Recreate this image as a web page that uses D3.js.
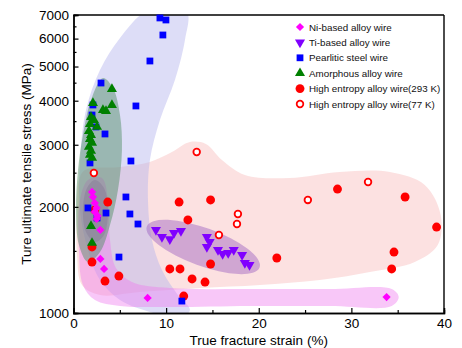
<!DOCTYPE html>
<html>
<head>
<meta charset="utf-8">
<script src="https://cdn.jsdelivr.net/npm/d3@7"></script>
<style>
  html, body { margin: 0; padding: 0; background: #fff; }
  svg { display: block; font-family: Arial, "Liberation Sans", sans-serif; }
</style>
</head>
<body>
<svg id="chart" width="462" height="348"></svg>
<script>
// ---- data: true fracture strain (%) vs. true ultimate tensile stress (MPa) ----
const niStrain = [2.0, 2.1, 2.3, 2.5, 2.3, 2.6, 2.5, 2.9, 2.9, 3.3, 8.0, 33.8];
const niStress = [2204, 2133, 2050, 1986, 1934, 1885, 1848, 1720, 1423, 1333, 1103, 1110];

const tiStrain = [8.9, 9.55, 10.4, 10.85, 11.6, 14.4, 14.7, 14.4, 15.6, 16.1, 16.7, 17.3, 18.2, 18.5, 19.0];
const tiStress = [1720, 1643, 1620, 1686, 1709, 1643, 1590, 1539, 1509, 1470, 1480, 1509, 1461, 1386, 1369];

const psStrain = [9.33, 9.98, 9.65, 8.25, 2.97, 2.10, 6.74, 2.0, 2.43, 3.40, 6.20, 1.78, 5.66, 1.56, 6.09, 3.51, 2.54, 6.96, 4.91, 11.70];
const psStress = [6866, 6776, 6143, 5184, 4490, 3890, 3865, 3643, 3370, 3219, 2698, 2664, 2133, 1986, 1909, 1921, 1860, 1788, 1441, 1081];

const amStrain = [4.15, 2.10, 4.15, 3.18, 3.51, 1.89, 2.21, 2.54, 1.78, 1.67, 1.89, 1.78, 2.0, 1.67, 1.89, 1.78, 2.0, 1.89, 2.0];
const amStress = [4318, 3940, 3890, 3765, 3740, 3596, 3526, 3370, 3435, 3279, 3196, 3115, 3037, 2960, 2884, 2810, 2756, 1765, 1580];

const h293Strain = [2.0, 2.0, 3.4, 4.9, 3.7, 2.3, 11.4, 14.8, 12.35, 10.4, 11.5, 12.8, 14.2, 14.8, 11.9, 28.5, 35.8, 39.2, 34.6, 34.35, 21.95];
const h293Stress = [1539, 1395, 1232, 1273, 2064, 1960, 2064, 2092, 1836, 1333, 1333, 1249, 1224, 1377, 1117, 2247, 2133, 1753, 1489, 1333, 1432];

const h77Strain = [2.2, 13.3, 17.75, 17.65, 15.7, 25.3, 31.8];
const h77Stress = [2495, 2861, 1909, 1788, 1664, 2092, 2352];

// shaded family regions, outlines as [strain, stress]
const heaRegion = [[1.24, 2545], [5.02, 2595], [8.25, 2681], [10.63, 2861], [12.57, 3055], [14.29, 3016],
  [16.02, 2716], [18.5, 2463], [23.35, 2414], [28.75, 2511], [34.14, 2511], [37.92, 2307], [39.64, 1897],
  [39.32, 1559], [36.84, 1395], [31.98, 1307], [26.59, 1240], [20.12, 1201], [13.65, 1177], [7.17, 1147],
  [2.86, 1125], [0.92, 1201], [0.38, 1461], [0.38, 1960], [0.59, 2384]];
const psRegion = [[7.71, 7140], [9.87, 7328], [12.24, 7140], [12.03, 5947], [10.95, 4580], [9.33, 3527],
  [8.25, 2716], [8.04, 2092], [8.47, 1611], [9.55, 1324], [11.27, 1125], [12.57, 1020], [11.49, 968],
  [8.25, 1007], [5.02, 1088], [2.86, 1240], [1.56, 1509], [0.70, 1960], [0.70, 2716], [1.35, 3765],
  [2.86, 4890], [5.02, 6026]];
const niBand = [[1.56, 2384], [3.07, 2415], [3.72, 2092], [3.94, 1611], [4.58, 1342], [6.31, 1224],
  [10.41, 1177], [19.04, 1170], [27.67, 1170], [34.36, 1170], [35.11, 1110], [34.36, 1047], [27.67, 1047],
  [19.04, 1047], [10.41, 1040], [5.02, 1047], [2.32, 1088], [1.02, 1201], [0.59, 1509], [0.70, 2092]];
const niCore = [[2.32, 2384], [3.29, 2262], [3.72, 1960], [3.29, 1664], [2.32, 1590], [1.35, 1697],
  [1.02, 1960], [1.46, 2262]];
const amRegion = [[3.18, 4640], [4.26, 4347], [5.02, 3643], [5.23, 2900], [4.80, 2233], [3.94, 1777],
  [2.86, 1489], [1.56, 1395], [0.59, 1559], [0.27, 1960], [0.49, 2545], [1.02, 3198], [1.89, 4019]];
const tiRegionCenter = [14.0, 1539];

const xTicks = [0, 10, 20, 30, 40];
const xMinor = [5, 15, 25, 35];
const yTicks = [1000, 2000, 3000, 4000, 5000, 6000, 7000];
const yMinor = [1500, 2500, 3500, 4500, 5500, 6500];

const legendLabels = ["Ni-based alloy wire", "Ti-based alloy wire", "Pearlitic steel wire",
  "Amorphous alloy wire", "High entropy alloy wire(293 K)", "High entropy alloy wire(77 K)"];

// ---- layout ----
const svg = d3.select("#chart");
const plotLeft = 73.5, plotRight = 444, plotTop = 15, plotBottom = 313;

const x = d3.scaleLinear().domain([0, 40]).range([plotLeft, plotRight]);
const y = d3.scaleLog().domain([1000, 7000]).range([plotBottom, plotTop]);

svg.append("defs").append("clipPath").attr("id", "plotclip")
  .append("rect").attr("x", plotLeft).attr("y", plotTop)
  .attr("width", plotRight - plotLeft).attr("height", plotBottom - plotTop);

const regions = svg.append("g").attr("clip-path", "url(#plotclip)");
const outline = d3.line().x(d => x(d[0])).y(d => y(d[1])).curve(d3.curveCatmullRomClosed.alpha(0.5));

regions.append("path").attr("d", outline(heaRegion)).attr("fill", "#f9c4c4").attr("opacity", 0.5);
regions.append("path").attr("d", outline(psRegion)).attr("fill", "#b4b4ee").attr("opacity", 0.45);
regions.append("path").attr("d", outline(niBand)).attr("fill", "#ee7aee").attr("opacity", 0.42);
regions.append("path").attr("d", outline(niCore)).attr("fill", "#a050b0").attr("opacity", 0.3);
regions.append("path").attr("d", outline(amRegion)).attr("fill", "#4a8a5e").attr("opacity", 0.45);
regions.append("ellipse")
  .attr("transform", `translate(${x(tiRegionCenter[0])},${y(tiRegionCenter[1])}) rotate(20)`)
  .attr("rx", 60).attr("ry", 19)
  .attr("fill", "#9b5fc0").attr("opacity", 0.45);

// ---- axes (ticks point inward) ----
const axisG = svg.append("g");
const xAxis = d3.axisBottom(x).tickValues(xTicks).tickSize(-5).tickPadding(5.5).tickFormat(d3.format("d"));
const xAxisMinor = d3.axisBottom(x).tickValues(xMinor).tickSize(-3).tickFormat("");
const yAxis = d3.axisLeft(y).tickValues(yTicks).tickSize(-5).tickPadding(4.5).tickFormat(d3.format("d"));
const yAxisMinor = d3.axisLeft(y).tickValues(yMinor).tickSize(-3).tickFormat("");

function styleAxis(g) {
  g.selectAll("path.domain").attr("stroke", "#000").attr("stroke-width", 1.4);
  g.selectAll(".tick line").attr("stroke", "#000").attr("stroke-width", 1.2);
  g.selectAll(".tick text").attr("fill", "#000").attr("font-size", "13.5px")
    .attr("font-family", "Arial, 'Liberation Sans', sans-serif");
}
axisG.append("g").attr("transform", `translate(0,${plotBottom})`).call(xAxisMinor).call(styleAxis);
axisG.append("g").attr("transform", `translate(0,${plotBottom})`).call(xAxis).call(styleAxis);
axisG.append("g").attr("transform", `translate(${plotLeft},0)`).call(yAxisMinor).call(styleAxis);
axisG.append("g").attr("transform", `translate(${plotLeft},0)`).call(yAxis).call(styleAxis);

// frame: top and right edges
svg.append("line").attr("x1", plotLeft).attr("x2", plotRight).attr("y1", plotTop).attr("y2", plotTop)
  .attr("stroke", "#000").attr("stroke-width", 1.4);
svg.append("line").attr("x1", plotRight).attr("x2", plotRight).attr("y1", plotTop).attr("y2", plotBottom)
  .attr("stroke", "#000").attr("stroke-width", 1.4);

// axis titles
svg.append("text").attr("x", (plotLeft + plotRight) / 2).attr("y", 345).attr("text-anchor", "middle")
  .attr("font-size", "13.5px").attr("fill", "#000").text("True fracture strain (%)");
svg.append("text").attr("transform", `translate(31,${(plotTop + plotBottom) / 2}) rotate(-90)`)
  .attr("text-anchor", "middle").attr("font-size", "13.5px").attr("fill", "#000")
  .text("Ture ultimate tensile stress (MPa)");

// ---- markers ----
const sym = {
  diamond: d3.symbol().type(d3.symbolSquare).size(34)(),
  square: d3.symbol().type(d3.symbolSquare).size(46)(),
  triangle: d3.symbol().type(d3.symbolTriangle).size(44)(),
  circle: d3.symbol().type(d3.symbolCircle).size(62)()
};
const series = [
  { xs: h293Strain, ys: h293Stress, path: sym.circle, rot: 0, fill: "#ff0000" },
  { xs: psStrain, ys: psStress, path: sym.square, rot: 0, fill: "#0000ff" },
  { xs: niStrain, ys: niStress, path: sym.diamond, rot: 45, fill: "#ff00ff" },
  { xs: tiStrain, ys: tiStress, path: sym.triangle, rot: 180, fill: "#8000ff" },
  { xs: amStrain, ys: amStress, path: sym.triangle, rot: 0, fill: "#008000" }
];
const marks = svg.append("g");
series.forEach(s => {
  marks.append("g").selectAll("path").data(d3.range(s.xs.length)).join("path")
    .attr("d", s.path)
    .attr("transform", i => `translate(${x(s.xs[i])},${y(s.ys[i])}) rotate(${s.rot})`)
    .attr("fill", s.fill);
});
marks.append("g").selectAll("circle").data(d3.range(h77Strain.length)).join("circle")
  .attr("cx", i => x(h77Strain[i])).attr("cy", i => y(h77Stress[i])).attr("r", 3.3)
  .attr("fill", "#fff").attr("stroke", "#ff0000").attr("stroke-width", 1.8);

// ---- legend ----
const legendStyle = [
  { path: sym.diamond, rot: 45, fill: "#ff00ff" },
  { path: sym.triangle, rot: 180, fill: "#8000ff" },
  { path: sym.square, rot: 0, fill: "#0000ff" },
  { path: sym.triangle, rot: 0, fill: "#008000" },
  { path: sym.circle, rot: 0, fill: "#ff0000" },
  { open: true }
];
const legend = svg.append("g").attr("transform", "translate(300,27)");
legendLabels.forEach((label, i) => {
  const row = legend.append("g").attr("transform", `translate(0,${i * 15.4})`);
  const st = legendStyle[i];
  if (st.open) {
    row.append("circle").attr("r", 3.3).attr("fill", "#fff").attr("stroke", "#ff0000").attr("stroke-width", 1.8);
  } else {
    row.append("path").attr("d", st.path).attr("transform", `rotate(${st.rot})`).attr("fill", st.fill);
  }
  row.append("text").attr("x", 9).attr("y", 3.5).attr("font-size", "9.8px").attr("fill", "#111").text(label);
});
</script>
</body>
</html>
